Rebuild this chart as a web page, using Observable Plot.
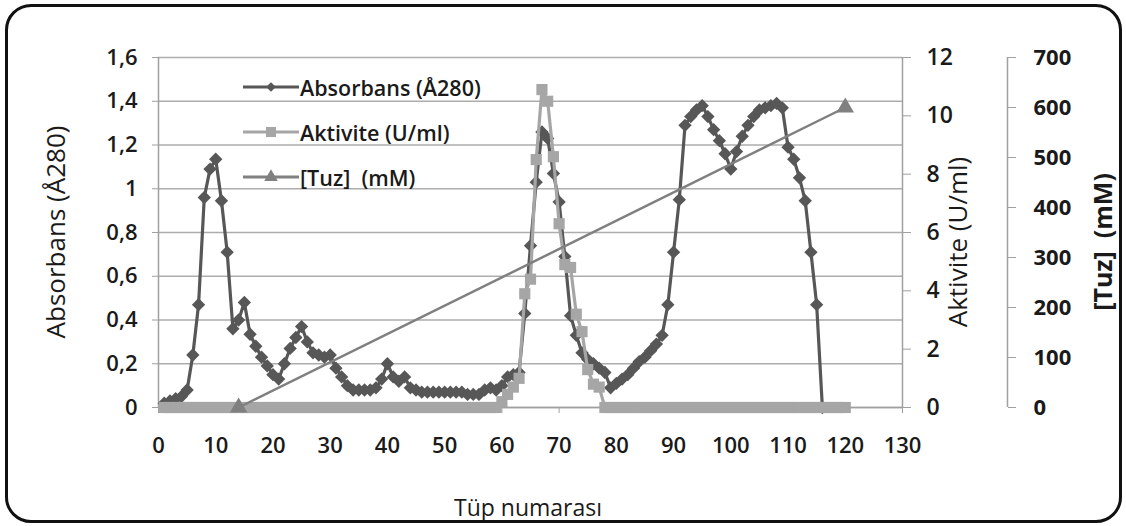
<!DOCTYPE html>
<html>
<head>
<meta charset="utf-8">
<script src="https://cdn.jsdelivr.net/npm/d3@7"></script>
<script src="https://cdn.jsdelivr.net/npm/@observablehq/plot@0.6"></script>
<style>
  body { margin: 0; background: #fff; }
  #wrap { position: relative; width: 1126px; height: 526px; overflow: hidden; font-family: "Open Sans", sans-serif; color: #1a1a1a; }
  #frame { position: absolute; left: 5px; top: 4px; width: 1117px; height: 519px; border: 3px solid #111; border-radius: 26px; box-sizing: border-box; pointer-events: none; }
  #chart { position: absolute; left: 0; top: 0; }
  .ylab { position: absolute; white-space: nowrap; transform: translate(-50%, -50%) rotate(-90deg); font-size: 26px; }
  .xlab { position: absolute; white-space: nowrap; transform: translate(-50%, -50%); font-size: 23px; }
  #legend { position: absolute; left: 243px; top: 70px; }
  .row { position: absolute; left: 0; height: 30px; display: flex; align-items: center; white-space: nowrap; font-size: 21.5px; font-weight: 600; }
  .row svg { display: block; margin-right: 1px; }
</style>
</head>
<body>
<div id="wrap">
  <div id="chart"></div>
  <div class="ylab" style="left:55px; top:232px;">Absorbans (Å280)</div>
  <div class="ylab" style="left:957px; top:242px;">Aktivite (U/ml)</div>
  <div class="ylab" style="left:1102px; top:242px; font-weight:700; font-size:25px;">[Tuz]&nbsp; (mM)</div>
  <div class="xlab" style="left:528px; top:507px;">Tüp numarası</div>
  <div id="legend"></div>
  <div id="frame"></div>
</div>
<script>
// ---------------- data ----------------
const seriesNames = ["Absorbans (Å280)", "Aktivite (U/ml)", "[Tuz]  (mM)"];

// Absorbans (Å280), tubes 1..116
const absTube = d3.range(1, 117);
const absValue = [
  0.02, 0.03, 0.04, 0.05, 0.08, 0.24, 0.47, 0.96, 1.09, 1.135,
  0.945, 0.71, 0.36, 0.40, 0.48, 0.335, 0.28, 0.23, 0.19, 0.15,
  0.13, 0.20, 0.27, 0.32, 0.37, 0.30, 0.25, 0.24, 0.23, 0.24,
  0.18, 0.14, 0.10, 0.08, 0.08, 0.08, 0.08, 0.09, 0.13, 0.20,
  0.14, 0.12, 0.14, 0.09, 0.08, 0.07, 0.07, 0.07, 0.07, 0.07,
  0.07, 0.07, 0.07, 0.06, 0.06, 0.06, 0.08, 0.09, 0.08, 0.10,
  0.14, 0.15, 0.16, 0.43, 0.74, 1.03, 1.26, 1.23, 1.07, 0.94,
  0.69, 0.42, 0.33, 0.25, 0.22, 0.20, 0.18, 0.16, 0.09, 0.11,
  0.13, 0.15, 0.18, 0.21, 0.23, 0.26, 0.29, 0.33, 0.47, 0.71,
  0.95, 1.29, 1.33, 1.36, 1.38, 1.33, 1.27, 1.22, 1.16, 1.09,
  1.17, 1.24, 1.29, 1.33, 1.36, 1.37, 1.38, 1.39, 1.37, 1.19,
  1.135, 1.05, 0.945, 0.71, 0.47, 0
];

// Aktivite (U/ml), tubes 1..120 (zero outside the active peak)
const aktTube = d3.range(1, 121);
const aktPeakTube = [60, 61, 62, 63, 64, 65, 66, 67, 68, 69, 70, 71, 72, 73, 74, 75, 76, 77];
const aktPeakValue = [0.2, 0.45, 0.7, 1.0, 3.9, 4.4, 8.5, 10.9, 10.5, 8.6, 6.3, 4.9, 4.8, 3.2, 2.6, 1.3, 0.8, 0.7];

// [Tuz] (mM)
const tuzTube = [14, 120];
const tuzValue = [0, 600];

// axis ticks
const xTicks = [0, 10, 20, 30, 40, 50, 60, 70, 80, 90, 100, 110, 120, 130];
const absTicks = [0, 0.2, 0.4, 0.6, 0.8, 1, 1.2, 1.4, 1.6];
const aktTicks = [0, 2, 4, 6, 8, 10, 12];
const tuzTicks = [0, 100, 200, 300, 400, 500, 600, 700];

// ---------------- chart ----------------
const absMax = 1.6, aktMax = 12, tuzMax = 700;
const fromAkt = v => v * absMax / aktMax;
const fromTuz = v => v * absMax / tuzMax;

const absData = absTube.map((t, i) => ({t, v: absValue[i]}));
const aktData = aktTube.map(t => {
  const j = aktPeakTube.indexOf(t);
  return {t, v: fromAkt(j >= 0 ? aktPeakValue[j] : 0)};
});
const tuzData = tuzTube.map((t, i) => ({t, v: fromTuz(tuzValue[i])}));

const cAbs = "#575757", cAkt = "#a6a6a6", cTuz = "#808080";
const axisGray = "#a0a0a0", textCol = "#1a1a1a";

const plot = Plot.plot({
  width: 1126, height: 526,
  marginLeft: 158, marginRight: 224, marginTop: 57, marginBottom: 119,
  style: {fontFamily: '"Open Sans", sans-serif', background: "transparent", overflow: "visible"},
  x: {domain: [0, 130]},
  y: {domain: [0, absMax]},
  marks: [
    Plot.gridY(absTicks, {stroke: "#adadad", strokeOpacity: 1, strokeWidth: 1.5}),
    Plot.ruleX([0], {stroke: axisGray, strokeWidth: 1.5}),
    Plot.ruleX([130], {stroke: axisGray, strokeWidth: 1.5}),
    Plot.ruleX([130], {stroke: axisGray, strokeWidth: 1.5, dx: 105}),
    Plot.axisY({ticks: absTicks, tickSize: 6, tickPadding: 15, stroke: axisGray, fill: textCol,
      fontSize: 22, fontWeight: 600, label: null,
      tickFormat: d => String(Math.round(d * 10) / 10).replace(".", ",")}),
    Plot.axisY({anchor: "right", ticks: aktTicks.map(fromAkt), tickSize: 8, tickPadding: 16, stroke: axisGray, fill: textCol,
      fontSize: 23, fontWeight: 600, label: null,
      tickFormat: d => String(Math.round(d * aktMax / absMax))}),
    Plot.axisY({anchor: "right", ticks: tuzTicks.map(fromTuz), tickSize: 8, tickPadding: 18, stroke: axisGray, fill: textCol,
      fontSize: 22, fontWeight: 700, label: null, dx: 105,
      tickFormat: d => String(Math.round(d * tuzMax / absMax))}),
    Plot.axisX({ticks: xTicks, tickSize: 6, tickPadding: 24, stroke: axisGray, fill: textCol,
      fontSize: 22, fontWeight: 600, label: null}),
    Plot.ruleY([0], {stroke: axisGray, strokeWidth: 1.5}),
    // Absorbans
    Plot.line(absData, {x: "t", y: "v", stroke: cAbs, strokeWidth: 3.2}),
    Plot.dot(absData, {x: "t", y: "v", symbol: "diamond2", r: 6, fill: cAbs, stroke: "none"}),
    // Aktivite
    Plot.line(aktData, {x: "t", y: "v", stroke: cAkt, strokeWidth: 3.2}),
    Plot.dot(aktData, {x: "t", y: "v", symbol: "square", r: 6.3, fill: cAkt, stroke: "none"}),
    // Tuz
    Plot.line(tuzData, {x: "t", y: "v", stroke: cTuz, strokeWidth: 2.5}),
    Plot.dot(tuzData, {x: "t", y: "v", symbol: "triangle", r: 6.5, fill: cTuz, stroke: "none"})
  ]
});
document.getElementById("chart").appendChild(plot);

// ---------------- legend ----------------
const legend = document.getElementById("legend");
const legendItems = [
  {name: seriesNames[0], color: cAbs, sym: d3.symbolDiamond2, size: 60, top: 2},
  {name: seriesNames[1], color: cAkt, sym: d3.symbolSquare, size: 100, top: 47},
  {name: seriesNames[2], color: cTuz, sym: d3.symbolTriangle, size: 80, top: 92}
];
legendItems.forEach(it => {
  const row = document.createElement("div");
  row.className = "row";
  row.style.top = it.top + "px";
  const s = d3.create("svg").attr("width", 56).attr("height", 30);
  s.append("line").attr("x1", 0).attr("x2", 56).attr("y1", 15).attr("y2", 15)
    .attr("stroke", it.color).attr("stroke-width", 3);
  s.append("path").attr("d", d3.symbol(it.sym, it.size)()).attr("transform", "translate(28,15)").attr("fill", it.color);
  row.appendChild(s.node());
  const span = document.createElement("span");
  span.textContent = it.name;
  span.style.whiteSpace = "pre";
  row.appendChild(span);
  legend.appendChild(row);
});
</script>
</body>
</html>
